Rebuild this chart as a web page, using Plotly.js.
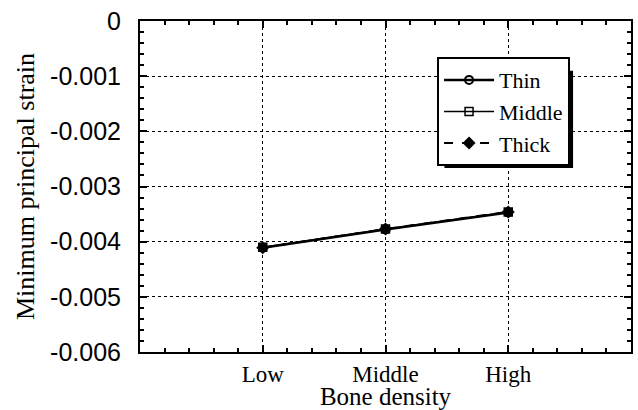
<!DOCTYPE html>
<html>
<head>
<meta charset="utf-8">
<script src="https://cdn.plot.ly/plotly-3.0.1.min.js"></script>
<style>html,body{margin:0;padding:0;background:#fff;}#chart{width:638px;height:410px;}</style>
</head>
<body>
<div id="chart"></div>
<script>
const categories = ["Low", "Middle", "High"];
const catPositions = [1, 2, 3];
const thin = [-0.00411, -0.00378, -0.00347];
const middle = [-0.00410, -0.00377, -0.00346];
const thick = [-0.00411, -0.00377, -0.00346];
const yTickText = ["0", "-0.001", "-0.002", "-0.003", "-0.004", "-0.005", "-0.006"];

const serif = "Liberation Serif";
const sans = "Liberation Sans";

const xAlias = {"0": " ", "4": " "};
catPositions.forEach((p, i) => { xAlias[String(p)] = categories[i]; });
const yAlias = {};
yTickText.forEach(t => { yAlias[t.replace("-", "\u2212")] = t; });

const traces = [
  {x: catPositions, y: thin, name: "Thin", mode: "lines+markers",
   line: {color: "#000", width: 2.5},
   marker: {symbol: "circle-open", size: 8, color: "#000", line: {width: 2}}},
  {x: catPositions, y: middle, name: "Middle", mode: "lines+markers",
   line: {color: "#000", width: 1.5},
   marker: {symbol: "square-open", size: 8, color: "#000", line: {width: 1.5}}},
  {x: catPositions, y: thick, name: "Thick", mode: "lines+markers",
   line: {color: "#000", width: 2, dash: "dash"},
   marker: {symbol: "diamond", size: 10, color: "#000"}}
];

const layout = {
  width: 638, height: 410,
  margin: {l: 140, r: 7, t: 21, b: 58},
  paper_bgcolor: "#fff", plot_bgcolor: "rgba(0,0,0,0)",
  showlegend: true,
  legend: {x: 0.605, y: 0.891, xanchor: "left", yanchor: "top",
    bgcolor: "#fff", bordercolor: "#000", borderwidth: 2, itemwidth: 50,
    font: {family: serif, size: 22, color: "#000"}},
  shapes: [
    {type: "rect", xref: "paper", yref: "paper", layer: "above",
     x0: 0.62, x1: 0.882, y0: 0.556, y1: 0.85,
     fillcolor: "#000", line: {width: 0}}
  ],
  xaxis: {range: [0, 4], tickmode: "linear", tick0: 0, dtick: 1, labelalias: xAlias,
    showline: true, linecolor: "#000", linewidth: 2, mirror: "ticks",
    ticks: "inside", ticklen: 7, tickcolor: "#000", tickwidth: 2,
    showgrid: true, gridcolor: "#000", gridwidth: 1, griddash: "dot",
    zeroline: false, ticklabelstandoff: 0,
    minor: {tick0: 0, dtick: 0.2, ticks: "inside", ticklen: 4,
            tickcolor: "#000", tickwidth: 2, showgrid: false},
    tickfont: {family: serif, size: 23, color: "#000"},
    title: {text: "Bone density", font: {family: serif, size: 25, color: "#000"}, standoff: 0}},
  yaxis: {range: [-0.006, 0], tickmode: "linear", tick0: 0, dtick: 0.001, labelalias: yAlias,
    showline: true, linecolor: "#000", linewidth: 2, mirror: "ticks",
    ticks: "inside", ticklen: 7, tickcolor: "#000", tickwidth: 2,
    showgrid: true, gridcolor: "#000", gridwidth: 1, griddash: "dot",
    zeroline: false, ticklabelstandoff: 12,
    minor: {tick0: 0, dtick: 0.0002, ticks: "inside", ticklen: 4,
            tickcolor: "#000", tickwidth: 2, showgrid: false},
    tickfont: {family: sans, size: 25, color: "#000"},
    title: {text: "Minimum principal strain", font: {family: serif, size: 26, color: "#000"}, standoff: 8}}
};

Plotly.newPlot("chart", traces, layout, {displayModeBar: false, staticPlot: true});
</script>
</body>
</html>
